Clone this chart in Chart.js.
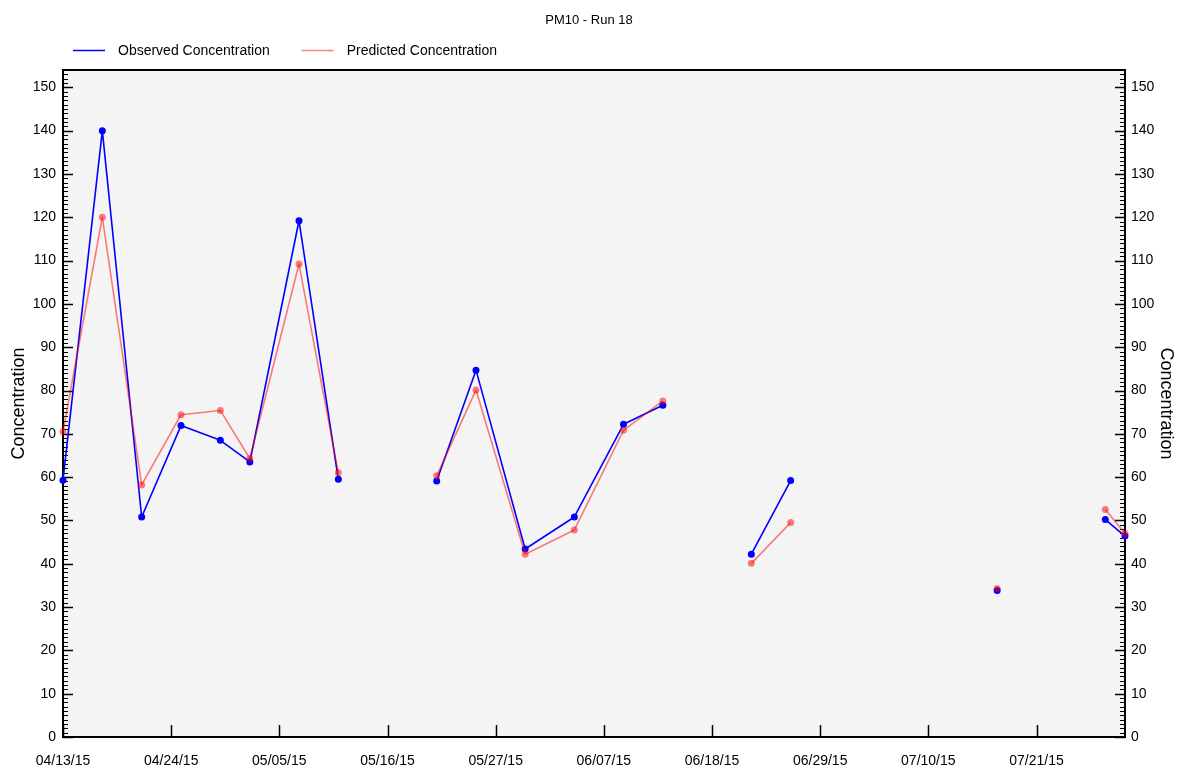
<!DOCTYPE html>
<html>
<head>
<meta charset="utf-8">
<title>PM10 - Run 18</title>
<script src="https://cdn.jsdelivr.net/npm/chart.js@4/dist/chart.umd.min.js"></script>
<style>
  html, body { margin: 0; padding: 0; background: #ffffff; }
  #wrap { width: 1178px; height: 770px; }
</style>
</head>
<body>
<div id="wrap"><canvas id="chart" width="1178" height="770"></canvas></div>
<script>
// Sample dates (MM/DD/YY); null values break the line where no sample was taken
const sampleDates = [
  '04/13/15', '04/17/15', '04/21/15', '04/25/15', '04/29/15', '05/02/15',
  '05/07/15', '05/11/15', '05/15/15', '05/21/15', '05/25/15', '05/30/15',
  '06/04/15', '06/09/15', '06/13/15', '06/17/15', '06/22/15', '06/26/15',
  '07/01/15', '07/17/15', '07/22/15', '07/28/15', '07/30/15'
];
const observed = [
  59.3, 140.0, 50.8, 71.9, 68.5, 63.5,
  119.2, 59.5, null, 59.1, 84.7, 43.4,
  50.8, 72.2, 76.6, null, 42.2, 59.2,
  null, 33.8, null, 50.2, 46.4
];
const predicted = [
  70.5, 120.0, 58.2, 74.4, 75.4, 64.3,
  109.2, 61.0, null, 60.3, 80.1, 42.2,
  47.8, 70.8, 77.6, null, 40.1, 49.5,
  null, 34.3, null, 52.5, 47.0
];
const seriesNames = ['Observed Concentration', 'Predicted Concentration'];
const xTickLabels = [
  '04/13/15', '04/24/15', '05/05/15', '05/16/15', '05/27/15',
  '06/07/15', '06/18/15', '06/29/15', '07/10/15', '07/21/15'
];
const yTickValues = [0, 10, 20, 30, 40, 50, 60, 70, 80, 90, 100, 110, 120, 130, 140, 150];
const xFirst = '04/13/15';
const xLast = '07/30/15';
const yMin = 0;
const yMax = 154;

// Day offset of a MM/DD/YY date from the first sample date
function dayNumber(s) {
  const [m, d, y] = s.split('/').map(Number);
  const [m0, d0, y0] = xFirst.split('/').map(Number);
  return Math.round((Date.UTC(2000 + y, m - 1, d) - Date.UTC(2000 + y0, m0 - 1, d0)) / 86400000);
}

const family = '"Liberation Sans", Arial, sans-serif';
const textSize = 14;
const titleSize = 13;
const axisTitleSize = 18;

const toPoints = vals => sampleDates.map((d, i) => ({ x: dayNumber(d), y: vals[i] }));

// Plot background, frame and inward-pointing tick marks
const framePlugin = {
  id: 'frame',
  beforeDraw(chart) {
    const { ctx, chartArea: a } = chart;
    ctx.save();
    ctx.fillStyle = '#f4f4f4';
    ctx.fillRect(a.left, a.top, a.right - a.left, a.bottom - a.top);
    ctx.restore();
  },
  beforeDatasetsDraw(chart) {
    const { ctx, chartArea: a, scales } = chart;
    ctx.save();
    ctx.strokeStyle = '#000000';
    const ys = scales.y;
    // minor ticks every unit
    ctx.lineWidth = 1;
    ctx.beginPath();
    for (let v = Math.ceil(yMin); v <= yMax; v++) {
      if (v % 10 === 0) continue;
      const py = Math.round(ys.getPixelForValue(v)) + 0.5;
      ctx.moveTo(a.left, py); ctx.lineTo(a.left + 5, py);
      ctx.moveTo(a.right, py); ctx.lineTo(a.right - 5, py);
    }
    ctx.stroke();
    // major ticks
    ctx.lineWidth = 1.5;
    ctx.beginPath();
    ys.ticks.forEach(t => {
      const py = Math.round(ys.getPixelForValue(t.value)) + 0.5;
      ctx.moveTo(a.left, py); ctx.lineTo(a.left + 10, py);
      ctx.moveTo(a.right, py); ctx.lineTo(a.right - 10, py);
    });
    const xs = scales.x;
    xs.ticks.forEach(t => {
      const px = Math.round(xs.getPixelForValue(t.value)) + 0.5;
      ctx.moveTo(px, a.bottom); ctx.lineTo(px, a.bottom - 12);
    });
    ctx.stroke();
    ctx.lineWidth = 2;
    ctx.strokeRect(a.left, a.top, a.right - a.left, a.bottom - a.top);
    ctx.restore();
  }
};

// Line-sample legend above the plot, left aligned
const lineLegendPlugin = {
  id: 'lineLegend',
  afterDraw(chart) {
    const { ctx, chartArea: a } = chart;
    ctx.save();
    ctx.font = textSize + 'px ' + family;
    ctx.textBaseline = 'middle';
    ctx.textAlign = 'left';
    const y = 50;
    let x = a.left + 10;
    chart.data.datasets.forEach(ds => {
      ctx.strokeStyle = ds.legendColor;
      ctx.lineWidth = 1.5;
      ctx.beginPath();
      ctx.moveTo(x, y + 0.5); ctx.lineTo(x + 32, y + 0.5);
      ctx.stroke();
      x += 45;
      ctx.fillStyle = '#000000';
      ctx.fillText(ds.label, x, y + 1);
      x += ctx.measureText(ds.label).width + 32;
    });
    ctx.restore();
  }
};

const tickFont = { family: family, size: textSize };
const axisTitleFont = { family: family, size: axisTitleSize };

new Chart(document.getElementById('chart'), {
  type: 'line',
  data: {
    datasets: [
      {
        label: seriesNames[0],
        data: toPoints(observed),
        borderColor: '#0000ff',
        backgroundColor: '#0000ff',
        legendColor: '#0000ff',
        borderWidth: 1.6,
        borderJoinStyle: 'round',
        pointRadius: 3.5,
        pointBorderWidth: 0,
        pointBackgroundColor: '#0000ff',
        spanGaps: false,
        tension: 0,
        clip: false,
        order: 1
      },
      {
        label: seriesNames[1],
        data: toPoints(predicted),
        borderColor: 'rgba(255, 0, 0, 0.5)',
        backgroundColor: 'rgba(255, 0, 0, 0.5)',
        legendColor: 'rgba(255, 0, 0, 0.5)',
        borderWidth: 1.6,
        borderJoinStyle: 'round',
        pointRadius: 3.5,
        pointBorderWidth: 0,
        pointBackgroundColor: 'rgba(255, 0, 0, 0.5)',
        spanGaps: false,
        tension: 0,
        clip: false,
        order: 0
      }
    ]
  },
  options: {
    responsive: false,
    animation: false,
    devicePixelRatio: 1,
    layout: { padding: 0 },
    plugins: {
      legend: { display: false },
      tooltip: { enabled: false },
      title: {
        display: true,
        text: 'PM10 - Run 18',
        color: '#000000',
        font: { family: family, size: titleSize, weight: 'normal' },
        padding: { top: 20 - titleSize * 0.6, bottom: 70 - (20 - titleSize * 0.6) - titleSize * 1.2 }
      }
    },
    scales: {
      x: {
        type: 'linear',
        min: dayNumber(xFirst),
        max: dayNumber(xLast),
        afterBuildTicks: s => { s.ticks = xTickLabels.map(l => ({ value: dayNumber(l) })); },
        afterFit: s => { s.height = 33; },
        grid: { display: false, drawTicks: false, tickLength: 0 },
        border: { display: false },
        ticks: {
          color: '#000000',
          font: tickFont,
          padding: 16,
          maxRotation: 0,
          autoSkip: false,
          callback: (v, i) => xTickLabels[i]
        }
      },
      y: {
        type: 'linear',
        position: 'left',
        min: yMin,
        max: yMax,
        afterBuildTicks: s => { s.ticks = yTickValues.map(v => ({ value: v })); },
        afterFit: s => { s.width = 63; },
        grid: { display: false, drawTicks: false, tickLength: 0 },
        border: { display: false },
        title: {
          display: true,
          text: 'Concentration',
          color: '#000000',
          font: axisTitleFont,
          padding: { top: 19 - axisTitleSize * 0.6, bottom: 0 }
        },
        ticks: { color: '#000000', font: tickFont, padding: 7, autoSkip: false }
      },
      y2: {
        type: 'linear',
        position: 'right',
        display: true,
        min: yMin,
        max: yMax,
        afterBuildTicks: s => { s.ticks = yTickValues.map(v => ({ value: v })); },
        afterFit: s => { s.width = 53; },
        grid: { display: false, drawTicks: false, tickLength: 0 },
        border: { display: false },
        title: {
          display: true,
          text: 'Concentration',
          color: '#000000',
          font: axisTitleFont,
          padding: { top: 12 - axisTitleSize * 0.6, bottom: 0 }
        },
        ticks: { color: '#000000', font: tickFont, padding: 6, autoSkip: false }
      }
    }
  },
  plugins: [framePlugin, lineLegendPlugin]
});
</script>
</body>
</html>
